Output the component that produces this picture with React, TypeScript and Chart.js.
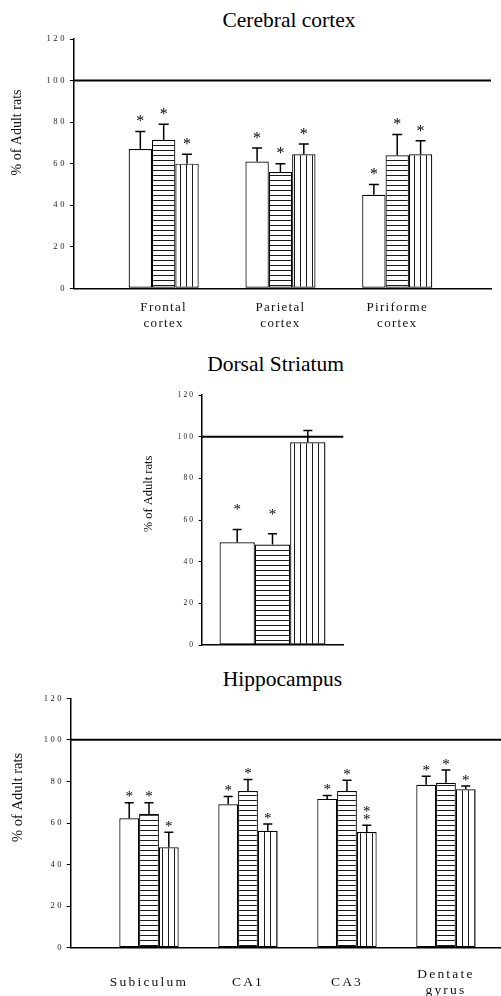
import React, { useEffect, useRef } from 'react';
import { Chart, registerables } from 'chart.js';

Chart.register(...registerables);

const FONT = "'Liberation Serif', 'Times New Roman', serif";

// ---------- shared ----------
const SERIES_NAMES = ['Open bars', 'Horizontal stripes', 'Vertical stripes'];
const Y_MIN = 0;
const Y_MAX = 120;
const Y_STEP = 20;
const ADULT_LEVEL = 100;
const Y_TITLE = '% of Adult rats';

// ---------- Cerebral cortex ----------
const cortexTitle = 'Cerebral cortex';
const cortexRegions = [['Frontal', 'cortex'], ['Parietal', 'cortex'], ['Piriforme', 'cortex']];
const cortexOpen = [67, 61, 45];
const cortexOpenErr = [8.5, 6.5, 5];
const cortexHoriz = [71.5, 56, 64];
const cortexHorizErr = [7.5, 4, 10];
const cortexVert = [60, 64.5, 64.5];
const cortexVertErr = [4.5, 5, 6.5];
const cortexOpenSig = ['*', '*', '*'];
const cortexHorizSig = ['*', '*', '*'];
const cortexVertSig = ['*', '*', '*'];

// ---------- Dorsal striatum ----------
const striatumTitle = 'Dorsal Striatum';
const striatumRegions = [''];
const striatumOpen = [49.3];
const striatumOpenErr = [6.2];
const striatumHoriz = [48.3];
const striatumHorizErr = [5.1];
const striatumVert = [97.3];
const striatumVertErr = [5.7];
const striatumOpenSig = ['*'];
const striatumHorizSig = ['*'];
const striatumVertSig = [''];

// ---------- Hippocampus ----------
const hippoTitle = 'Hippocampus';
const hippoRegions = ['Subiculum', 'CA1', 'CA3', ['Dentate', 'gyrus']];
const hippoOpen = [62.3, 69, 71.6, 78.4];
const hippoOpenErr = [7.5, 3.7, 1.6, 4.1];
const hippoHoriz = [64.3, 75.4, 75.4, 79.4];
const hippoHorizErr = [5.5, 5.5, 5.2, 6.1];
const hippoVert = [48.3, 56.3, 55.7, 76.2];
const hippoVertErr = [7.2, 3.2, 3.2, 1.6];
const hippoOpenSig = ['*', '*', '*', '*'];
const hippoHorizSig = ['*', '*', '*', '*'];
const hippoVertSig = ['*', '*', '**', '*'];

type PanelProps = {
  title: string;
  regions: (string | string[])[];
  series: number[][];
  errors: number[][];
  sig: string[][];
  top: number;
  height: number;
  titleX: number;
  titleTop: number;
  axisLeft: number;
  padTop: number;
  padRight: number;
  xHeight: number;
  xMin: number;
  xMax: number;
  groupFrac: number;
  yTickSize: number;
  yTickSpacing: number;
  yTickPad: number;
  yTickLen: number;
  xTickShow: boolean;
  xTickSize: number;
  xTickSpacing: number;
  xTickPad: number;
  yTitleX: number;
  yTitleValue: number;
  yTitleSize: number;
  starSize: number;
  starOffset: number;
  starStack: number;
  capHalf: number;
};

function makeStripes(ctx: CanvasRenderingContext2D, kind: 'h' | 'v'): CanvasPattern | string {
  const c = document.createElement('canvas');
  if (kind === 'h') {
    c.width = 4;
    c.height = 5;
  } else {
    c.width = 6;
    c.height = 4;
  }
  const g = c.getContext('2d')!;
  g.fillStyle = '#ffffff';
  g.fillRect(0, 0, c.width, c.height);
  g.fillStyle = '#1a1a1a';
  if (kind === 'h') g.fillRect(0, 0, c.width, 1);
  else g.fillRect(0, 0, 1, c.height);
  return ctx.createPattern(c, 'repeat') || '#ffffff';
}

function Panel(p: PanelProps) {
  const ref = useRef<HTMLCanvasElement>(null);

  useEffect(() => {
    const canvas = ref.current!;
    const ctx = canvas.getContext('2d')!;
    const fills = ['#ffffff', makeStripes(ctx, 'h'), makeStripes(ctx, 'v')];

    const datasets = p.series.map((vals, k) => ({
      label: SERIES_NAMES[k],
      data: vals.map((v, i) => ({ x: i, y: v })),
      backgroundColor: fills[k] as any,
      borderColor: '#000',
      borderWidth: 1.2,
      borderSkipped: false,
      barPercentage: 1,
      categoryPercentage: p.groupFrac,
    }));

    const deco = {
      id: 'deco',
      beforeDraw(chart: any) {
        const c = chart.ctx as any;
        c.letterSpacing = '0px';
        const spacing: Record<string, number> = { x: p.xTickSpacing, y: p.yTickSpacing };
        for (const id of ['x', 'y']) {
          const s: any = chart.scales[id];
          if (!s || s.__spaced) continue;
          const orig = s.drawLabels.bind(s);
          s.drawLabels = (area: any) => {
            const prev = c.letterSpacing;
            c.letterSpacing = spacing[id] + 'px';
            orig(area);
            c.letterSpacing = prev;
          };
          s.__spaced = true;
        }
      },
      afterDatasetsDraw(chart: any) {
        const c = chart.ctx as CanvasRenderingContext2D;
        const y = chart.scales.y;
        const area = chart.chartArea;
        c.save();
        const yRef = y.getPixelForValue(ADULT_LEVEL);
        c.strokeStyle = '#000';
        c.lineWidth = 2;
        c.beginPath();
        c.moveTo(area.left, yRef);
        c.lineTo(area.right, yRef);
        c.stroke();
        c.lineWidth = 1.5;
        c.fillStyle = '#000';
        c.font = `${p.starSize}px ${FONT}`;
        c.textAlign = 'center';
        c.textBaseline = 'middle';
        p.series.forEach((vals, k) => {
          const meta = chart.getDatasetMeta(k);
          meta.data.forEach((bar: any, i: number) => {
            const yTop = y.getPixelForValue(vals[i] + p.errors[k][i]);
            c.beginPath();
            c.moveTo(bar.x, bar.y);
            c.lineTo(bar.x, yTop);
            c.moveTo(bar.x - p.capHalf, yTop);
            c.lineTo(bar.x + p.capHalf, yTop);
            c.stroke();
            const mark = p.sig[k][i] || '';
            for (let m = 0; m < mark.length; m++) {
              c.fillText(mark[m], bar.x, yTop - p.starOffset - m * p.starStack);
            }
          });
        });
        c.restore();
      },
      afterDraw(chart: any) {
        const c = chart.ctx as any;
        c.save();
        c.letterSpacing = '0px';
        const yPix = chart.scales.y.getPixelForValue(p.yTitleValue);
        c.translate(p.yTitleX, yPix);
        c.rotate(-Math.PI / 2);
        c.font = `${p.yTitleSize}px ${FONT}`;
        c.fillStyle = '#111';
        c.textAlign = 'center';
        c.textBaseline = 'middle';
        c.fillText(Y_TITLE, 0, 0);
        c.restore();
      },
    };

    const chart = new Chart(canvas, {
      type: 'bar',
      data: { datasets: datasets as any },
      options: {
        responsive: false,
        animation: false,
        events: [],
        layout: { padding: { top: p.padTop, right: p.padRight, bottom: 0, left: 0 } },
        plugins: {
          legend: { display: false },
          tooltip: { enabled: false },
          title: { display: false },
        },
        scales: {
          x: {
            type: 'linear',
            bounds: 'data',
            min: p.xMin,
            max: p.xMax,
            offset: false,
            grid: { display: false },
            border: { display: true, color: '#000', width: 1.5 },
            afterBuildTicks: (s: any) => {
              s.ticks = p.regions.map((_, i) => ({ value: i }));
            },
            afterFit: (s: any) => {
              s.height = p.xHeight;
            },
            ticks: {
              display: p.xTickShow,
              autoSkip: false,
              maxRotation: 0,
              minRotation: 0,
              crossAlign: 'center',
              padding: p.xTickPad,
              color: '#111',
              font: { family: FONT, size: p.xTickSize },
              callback: (v: any) =>
                Number.isInteger(v) && p.regions[v] !== undefined ? (p.regions[v] as any) : '',
            },
          } as any,
          y: {
            type: 'linear',
            min: Y_MIN,
            max: Y_MAX,
            afterFit: (s: any) => {
              s.width = p.axisLeft;
            },
            grid: {
              display: true,
              drawOnChartArea: false,
              drawTicks: true,
              tickLength: p.yTickLen,
              color: '#000',
              lineWidth: 1,
            },
            border: { display: true, color: '#000', width: 1.5 },
            ticks: {
              stepSize: Y_STEP,
              padding: p.yTickPad,
              color: '#222',
              font: { family: FONT, size: p.yTickSize },
            },
          },
        },
      },
      plugins: [deco as any],
    });
    return () => chart.destroy();
  }, []);

  return (
    <>
      <div
        style={{
          position: 'absolute',
          top: p.titleTop,
          left: p.titleX,
          transform: 'translateX(-50%)',
          whiteSpace: 'nowrap',
          fontFamily: FONT,
          fontSize: 21.5,
          lineHeight: 1,
          color: '#000',
        }}
      >
        {p.title}
      </div>
      <canvas
        ref={ref}
        width={501}
        height={p.height}
        style={{ position: 'absolute', left: 0, top: p.top, width: 501, height: p.height }}
      />
    </>
  );
}

export default function App() {
  return (
    <div
      style={{
        position: 'absolute',
        left: 0,
        top: 0,
        width: 501,
        height: 996,
        overflow: 'hidden',
        background: '#fff',
      }}
    >
      <Panel
        title={cortexTitle}
        regions={cortexRegions}
        series={[cortexOpen, cortexHoriz, cortexVert]}
        errors={[cortexOpenErr, cortexHorizErr, cortexVertErr]}
        sig={[cortexOpenSig, cortexHorizSig, cortexVertSig]}
        top={0}
        height={335}
        titleX={289}
        titleTop={10.3}
        axisLeft={74}
        padTop={39}
        padRight={10}
        xHeight={46.7}
        xMin={-0.768}
        xMax={2.803}
        groupFrac={0.6}
        yTickSize={8.5}
        yTickSpacing={2.6}
        yTickPad={3}
        yTickLen={4}
        xTickShow={true}
        xTickSize={13}
        xTickSpacing={1.3}
        xTickPad={11.2}
        yTitleX={17.5}
        yTitleValue={75}
        yTitleSize={14}
        starSize={16}
        starOffset={9.4}
        starStack={8}
        capHalf={5}
      />
      <Panel
        title={striatumTitle}
        regions={striatumRegions}
        series={[striatumOpen, striatumHoriz, striatumVert]}
        errors={[striatumOpenErr, striatumHorizErr, striatumVertErr]}
        sig={[striatumOpenSig, striatumHorizSig, striatumVertSig]}
        top={340}
        height={320}
        titleX={275.5}
        titleTop={353.7}
        axisLeft={201.7}
        padTop={55}
        padRight={157.7}
        xHeight={15}
        xMin={-0.99}
        xMax={0.99}
        groupFrac={0.748}
        yTickSize={7.5}
        yTickSpacing={2}
        yTickPad={3.7}
        yTickLen={3}
        xTickShow={false}
        xTickSize={13}
        xTickSpacing={0}
        xTickPad={0}
        yTitleX={149}
        yTitleValue={72.5}
        yTitleSize={12.5}
        starSize={15}
        starOffset={19}
        starStack={8}
        capHalf={4.5}
      />
      <Panel
        title={hippoTitle}
        regions={hippoRegions}
        series={[hippoOpen, hippoHoriz, hippoVert]}
        errors={[hippoOpenErr, hippoHorizErr, hippoVertErr]}
        sig={[hippoOpenSig, hippoHorizSig, hippoVertSig]}
        top={690}
        height={306}
        titleX={282.5}
        titleTop={668.7}
        axisLeft={70.7}
        padTop={8.3}
        padRight={0}
        xHeight={48.3}
        xMin={-0.791}
        xMax={3.556}
        groupFrac={0.6}
        yTickSize={8.5}
        yTickSpacing={2.6}
        yTickPad={2.5}
        yTickLen={4}
        xTickShow={true}
        xTickSize={13.5}
        xTickSpacing={2.2}
        xTickPad={19}
        yTitleX={17.7}
        yTitleValue={72.3}
        yTitleSize={14.5}
        starSize={15}
        starOffset={5.4}
        starStack={8}
        capHalf={4.5}
      />
    </div>
  );
}
